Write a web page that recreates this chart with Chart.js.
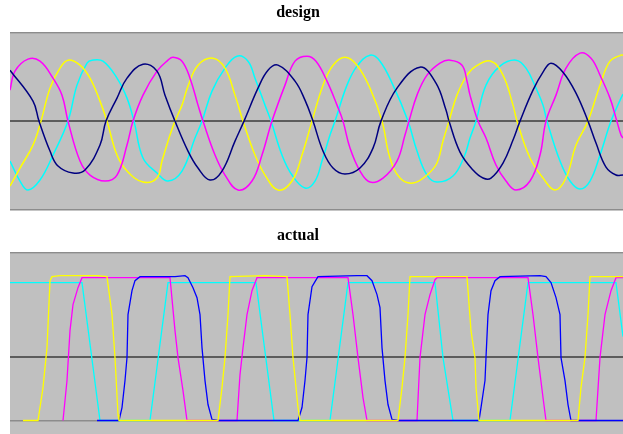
<!DOCTYPE html>
<html>
<head>
<meta charset="utf-8">
<script src="https://cdn.jsdelivr.net/npm/chart.js@4"></script>
<style>
  html, body { margin: 0; padding: 0; background: #fff; }
  canvas { display: block; }
</style>
</head>
<body>
<canvas id="design" width="623" height="224"></canvas>
<canvas id="actual" width="623" height="210"></canvas>
<script>
// design panel: [sample position, level]
const designNavy = [[10,51],[33,20],[39,0],[50,-30],[58,-45],[73,-52],[85,-49],[100,-24],[106,0],[117,23],[127,43],[143,57],[157,50],[165,26],[175,0],[188,-30],[198,-47],[210,-59],[222,-50],[235,-20],[244,0],[258,33],[268,51],[278,56],[295,40],[305,21],[313,0],[323,-30],[333,-47],[345,-53],[360,-47],[373,-27],[381,0],[397,33],[420,54],[436,38],[446,11],[449,0],[460,-31],[473,-49],[483,-57],[491,-57],[503,-42],[513,-19],[520,0],[533,31],[543,49],[551,58],[563,49],[576,28],[588,0],[596,-22],[606,-46],[616,-54],[623,-54]];
const designMagenta = [[10,31],[15,50],[28,62],[40,60],[53,43],[62,26],[68,0],[80,-40],[90,-54],[105,-60],[117,-54],[127,-24],[133,0],[143,26],[157,50],[168,61],[173,64],[182,60],[190,43],[198,16],[203,0],[215,-34],[225,-54],[238,-69],[252,-60],[262,-34],[272,0],[285,36],[295,60],[307,65],[316,60],[327,40],[337,16],[343,0],[350,-27],[360,-50],[370,-61],[383,-57],[397,-40],[405,-14],[409,0],[417,26],[427,46],[440,58],[450,61],[462,56],[467,40],[470,26],[478,0],[486,-17],[496,-44],[506,-60],[516,-69],[530,-60],[540,-34],[546,0],[556,26],[566,53],[580,68],[591,63],[600,46],[610,23],[616,3],[621,-14],[623,-17]];
const designYellow = [[10,-65],[20,-47],[33,-24],[41,0],[50,33],[60,53],[68,61],[80,56],[90,43],[100,20],[107,0],[117,-34],[127,-50],[143,-61],[157,-57],[162,-40],[170,-14],[175,0],[182,16],[188,35],[198,56],[213,63],[225,53],[235,26],[243,0],[255,-34],[265,-54],[278,-69],[292,-60],[302,-34],[312,0],[323,36],[333,56],[345,64],[357,56],[370,33],[382,0],[390,-37],[400,-57],[413,-62],[427,-54],[437,-42],[443,-20],[449,0],[457,26],[467,46],[476,55],[491,60],[503,46],[513,16],[517,0],[530,-37],[543,-57],[555,-69],[566,-57],[576,-24],[588,0],[600,36],[610,60],[621,66],[623,66]];
const designCyan = [[10,-40],[20,-60],[28,-69],[40,-59],[53,-34],[68,0],[77,36],[87,58],[92,61],[103,60],[117,43],[127,23],[134,0],[143,-37],[157,-52],[168,-60],[182,-50],[195,-17],[202,0],[212,30],[225,53],[237,65],[248,60],[255,43],[265,16],[271,0],[282,-34],[292,-54],[305,-67],[315,-60],[322,-40],[330,-14],[335,0],[347,36],[357,55],[370,66],[380,60],[393,36],[408,0],[417,-30],[427,-54],[437,-61],[453,-55],[464,-36],[470,-17],[476,0],[486,36],[500,55],[516,61],[526,53],[536,33],[543,16],[547,0],[560,-40],[570,-60],[580,-68],[590,-60],[600,-34],[611,0],[621,23],[623,27]];

// actual panel
const actualYellow = [[23,-64],[38,-64],[43,-31],[47,9],[50,76],[52,80],[60,81],[97,81],[107,80],[112,42],[115,-1],[118,-58],[119,-64],[218,-64],[222,-31],[225,-1],[228,42],[230,80],[265,81],[287,80],[290,42],[293,-1],[298,-51],[300,-64],[398,-64],[402,-31],[405,-1],[408,42],[410,80],[443,80],[467,80],[471,26],[475,-1],[476,-31],[479,-64],[578,-64],[581,-31],[585,-1],[588,42],[590,80],[623,80]];
const actualBlue = [[97,-64],[119,-64],[122,-51],[125,-24],[127,-1],[128,42],[132,66],[135,76],[140,80],[175,80],[185,81],[188,79],[193,69],[197,59],[200,42],[202,9],[205,-24],[208,-48],[212,-63],[218,-64],[298,-64],[302,-51],[305,-24],[307,-1],[308,42],[312,70],[315,75],[318,80],[357,81],[367,81],[372,76],[377,62],[380,49],[382,9],[385,-24],[388,-48],[392,-63],[398,-64],[479,-64],[481,-51],[485,-24],[486,-1],[488,42],[491,66],[495,76],[500,80],[540,81],[546,80],[551,74],[556,59],[560,42],[561,-1],[565,-24],[568,-48],[571,-64],[623,-64]];
const actualMagenta = [[63,-64],[67,-24],[70,26],[73,52],[78,69],[82,79],[170,79],[175,26],[178,-1],[183,-34],[187,-64],[237,-64],[240,-18],[243,9],[247,42],[252,66],[257,79],[348,79],[353,42],[358,-1],[363,-41],[367,-64],[417,-64],[420,-1],[425,42],[430,62],[435,77],[437,79],[528,79],[533,42],[538,-1],[543,-41],[546,-64],[596,-64],[600,-1],[605,42],[611,66],[616,79],[623,79]];
const actualCyan = [[10,74],[82,74],[100,-64],[150,-64],[168,74],[256,74],[274,-64],[330,-64],[348,74],[435,74],[443,-1],[453,-64],[510,-64],[528,74],[616,74],[623,20]];

// axis ranges and reference levels (frame, centre line, low rail)
const designRange = [-89, 88];
const actualRange = [-77.5, 103.5];
const designRefs = [-89, 0, 88];
const actualRefs = [-64, 0, 103.5];

const panelBackground = {
  id: 'panelBackground',
  beforeDraw(chart) {
    const { ctx, chartArea: a } = chart;
    ctx.save();
    ctx.fillStyle = '#c0c0c0';
    ctx.fillRect(a.left, a.top, a.right - a.left, a.bottom - a.top);
    ctx.restore();
  }
};

function toPoints(pairs) {
  return pairs.map(p => ({ x: p[0], y: p[1] }));
}

function line(pairs, color, smooth) {
  return {
    data: toPoints(pairs),
    borderColor: color,
    borderWidth: smooth ? 1.5 : 1.3,
    pointRadius: 0,
    tension: smooth ? 0.4 : 0
  };
}

function makePanel(id, title, datasets, range, refs, pad) {
  new Chart(document.getElementById(id), {
    type: 'line',
    data: { datasets },
    plugins: [panelBackground],
    options: {
      responsive: false,
      animation: false,
      layout: { padding: { left: -27, right: 0, top: 0, bottom: pad.area } },
      plugins: {
        legend: { display: false },
        tooltip: { enabled: false },
        title: {
          display: true,
          text: title,
          color: '#000',
          font: { family: "'Liberation Serif', 'Times New Roman', serif", size: 16, weight: 'bold' },
          padding: { top: pad.top, bottom: pad.bottom }
        }
      },
      scales: {
        x: { type: 'linear', min: 10, max: 623, display: false },
        y: {
          min: range[0],
          max: range[1],
          afterFit(scale) { scale.width = 37; },
          afterBuildTicks(scale) { scale.ticks = refs.map(v => ({ value: v })); },
          ticks: { display: false },
          border: { display: false },
          grid: {
            drawTicks: false,
            color: ctx => ctx.tick && ctx.tick.value === 0 ? '#5c5c5c' : '#8c8c8c',
            lineWidth: ctx => ctx.tick && ctx.tick.value === 0 ? 2 : 1.5
          }
        }
      }
    }
  });
}

makePanel('design', 'design', [
  line(designNavy, '#000080', true),
  line(designMagenta, '#ff00ff', true),
  line(designYellow, '#ffff00', true),
  line(designCyan, '#00ffff', true)
], designRange, designRefs, { top: 3, bottom: 11, area: 14 });

makePanel('actual', 'actual', [
  line(actualYellow, '#ffff00', false),
  line(actualBlue, '#0000ff', false),
  line(actualMagenta, '#ff00ff', false),
  line(actualCyan, '#00ffff', false)
], actualRange, actualRefs, { top: 2, bottom: 8, area: 0 });
</script>
</body>
</html>
